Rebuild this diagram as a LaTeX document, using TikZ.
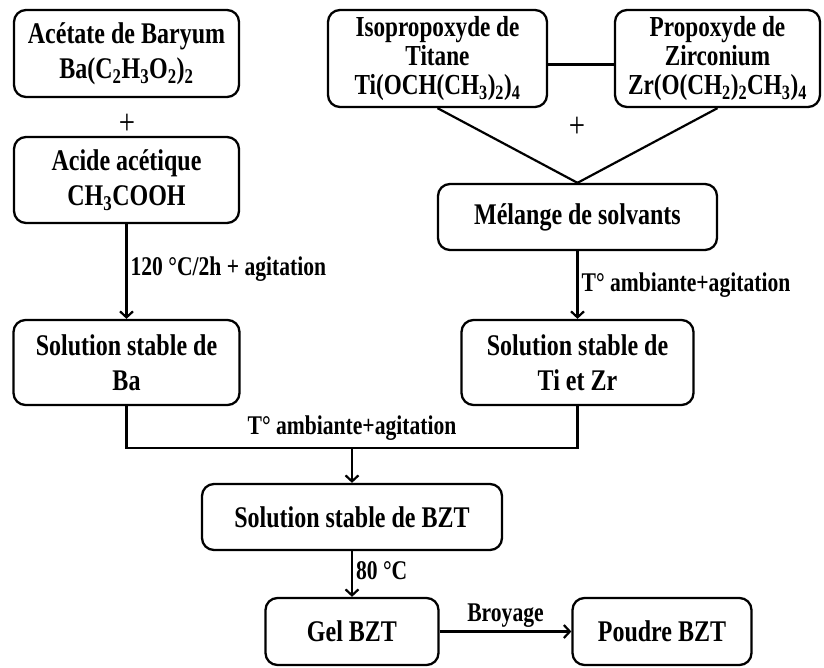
\documentclass[tikz,border=0pt]{standalone}
\usepackage{fontspec}
\setmainfont{Liberation Serif}[FakeStretch=0.8]
\usetikzlibrary{shapes,arrows,arrows.meta}
\tikzstyle{block} = [rectangle, draw, line width=2.3pt, rounded corners=12pt,
    align=center, inner sep=2pt, font=\fontsize{30}{35}\selectfont\bfseries]
\tikzstyle{block2} = [block, font=\fontsize{29}{29}\selectfont\bfseries]
\tikzstyle{line} = [draw, line width=2.2pt, -{Straight Barb[length=6pt,width=13pt]}]
\tikzstyle{line1} = [draw, line width=2.2pt]
\tikzstyle{lbl} = [font=\fontsize{27}{30}\selectfont\bfseries, inner sep=3pt]
\tikzstyle{plus} = [font=\fontsize{36}{36}\selectfont]

\begin{document}
\begin{tikzpicture}[x=1pt, y=1pt, node distance=100pt]
    \useasboundingbox (0,0) rectangle (824,-668);
    % Place nodes
    \node [block, minimum width=225pt, minimum height=87pt] (BaAc) at (126.5,-53.5) {Acétate de Baryum\\Ba(C\textsubscript{2}H\textsubscript{3}O\textsubscript{2})\textsubscript{2}};
    \node [plus] (plus1) at (127,-124) {+};
    \node [block, minimum width=225pt, minimum height=86pt, below of=BaAc, node distance=126.5pt] (AcAc) {Acide acétique\\CH\textsubscript{3}COOH};
    \node [block, minimum width=226pt, minimum height=85pt, below of=AcAc, node distance=182.5pt] (SolBa) {Solution stable de\\Ba};

    \node [block2, minimum width=219pt, minimum height=97pt] (Ti) at (437.5,-58.5) {Isopropoxyde de\\Titane\\Ti(OCH(CH\textsubscript{3})\textsubscript{2})\textsubscript{4}};
    \node [block2, minimum width=205pt, minimum height=97pt, right of=Ti, node distance=280pt] (Zr) {Propoxyde de\\Zirconium\\Zr(O(CH\textsubscript{2})\textsubscript{2}CH\textsubscript{3})\textsubscript{4}};
    \node [plus] (plus2) at (577,-127) {+};
    \node [block, minimum width=279pt, minimum height=66pt] (Mel) at (577.5,-217) {Mélange de solvants};
    \node [block, minimum width=232pt, minimum height=85pt, below of=Mel, node distance=145.5pt] (SolTiZr) {Solution stable de\\Ti et Zr};

    \coordinate (join) at (352,-448);
    \node [block, minimum width=300pt, minimum height=66pt] (SolBZT) at (352,-517) {Solution stable de BZT};
    \node [block, minimum width=173pt, minimum height=67pt, below of=SolBZT, node distance=114.5pt] (Gel) {Gel BZT};
    \node [block, minimum width=179pt, minimum height=67pt, right of=Gel, node distance=310pt] (Poudre) {Poudre BZT};

    % Draw edges
    \path [line] (AcAc) -- node [lbl, right, pos=0.48] {120 °C/2h + agitation} (SolBa);
    \path [line1] ([yshift=-6pt]Ti.east) -- ([yshift=-6pt]Zr.west);
    \path [line1] (Ti.south) -- (Mel.north);
    \path [line1] (Zr.south) -- (Mel.north);
    \path [line] (Mel) -- node [lbl, right] {T° ambiante+agitation} (SolTiZr);
    \path [line1] (SolBa.south) |- (join) -| (SolTiZr.south);
    \node [lbl, above=4pt] (mixlbl) at (join) {T° ambiante+agitation};
    \path [line] (join) -- (SolBZT);
    \path [line] (SolBZT) -- node [lbl, right, pos=0.43] {80 °C} (Gel);
    \path [line] (Gel) -- node [lbl, above] {Broyage} (Poudre);
\end{tikzpicture}
\end{document}
